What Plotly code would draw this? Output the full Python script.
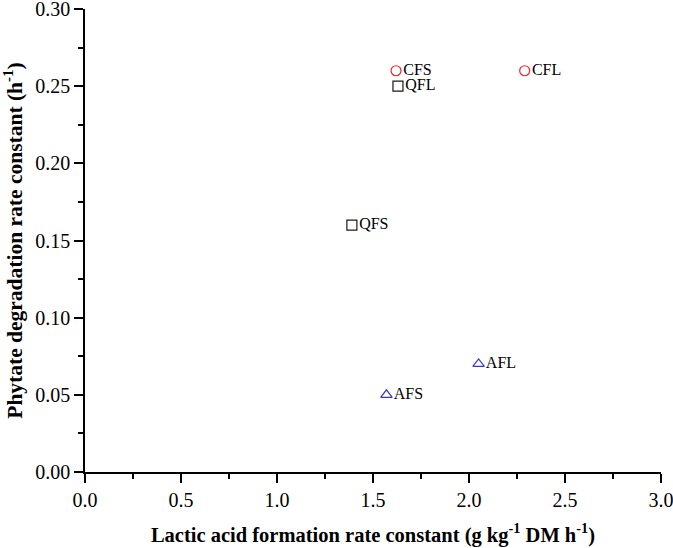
import plotly.graph_objects as go

# fermentation treatments: lactic acid rate (x) vs phytate degradation rate (y)
cf_names = ["CFS", "CFL"]
cf_x = [1.62, 2.29]
cf_y = [0.26, 0.26]

qf_names = ["QFL", "QFS"]
qf_x = [1.63, 1.39]
qf_y = [0.25, 0.16]

af_names = ["AFL", "AFS"]
af_x = [2.05, 1.57]
af_y = [0.07, 0.05]

x_ticks = [0.0, 0.5, 1.0, 1.5, 2.0, 2.5, 3.0]
y_ticks = [0.00, 0.05, 0.10, 0.15, 0.20, 0.25, 0.30]

font = "Liberation Serif, Times New Roman, serif"

fig = go.Figure()


def add_group(names, xs, ys, symbol, color):
    fig.add_trace(go.Scatter(
        x=xs, y=ys, text=names, mode="markers+text",
        textposition="middle right",
        textfont=dict(family=font, size=16, color="black"),
        marker=dict(symbol=symbol, size=10, color=color,
                    line=dict(color=color, width=1.2)),
        showlegend=False,
    ))


add_group(cf_names, cf_x, cf_y, "circle-open", "#e3262e")
add_group(qf_names, qf_x, qf_y, "square-open", "#1a1a1a")
add_group(af_names, af_x, af_y, "triangle-up-open", "#3535d0")

axis_common = dict(
    showline=True, linecolor="black", linewidth=1.5,
    ticks="outside", ticklen=9, tickwidth=1.5, tickcolor="black",
    showgrid=False, zeroline=False, mirror=False, automargin=False,
    ticklabeloverflow="allow",
    tickfont=dict(family=font, size=20, color="black"),
)

fig.update_xaxes(
    range=[0, 3.0], tickvals=x_ticks, ticktext=[f"{v:.1f}" for v in x_ticks],
    minor=dict(dtick=0.25, ticks="outside", ticklen=5, tickwidth=1.5, tickcolor="black"),
    title=dict(text="<b>Lactic acid formation rate constant (g kg<sup>-1</sup> DM h<sup>-1</sup>)</b>",
               font=dict(family=font, size=20.5, color="black"), standoff=18),
    **axis_common,
)
fig.update_yaxes(
    range=[0, 0.30], tickvals=y_ticks, ticktext=[f"{v:.2f}" for v in y_ticks],
    minor=dict(dtick=0.025, ticks="outside", ticklen=5, tickwidth=1.5, tickcolor="black"),
    title=dict(text="<b>Phytate degradation rate constant (h<sup>-1</sup>)</b>",
               font=dict(family=font, size=21.5, color="black"), standoff=8),
    **axis_common,
)

fig.update_layout(
    width=673, height=548,
    margin=dict(l=85, r=12, t=9, b=76),
    plot_bgcolor="white", paper_bgcolor="white",
    font=dict(family=font, color="black"),
)

# drop the page's default body margin so the figure sits at the window corner
fig.write_html("out.html", config={"displayModeBar": False},
               post_script="document.body.style.margin='0';")
